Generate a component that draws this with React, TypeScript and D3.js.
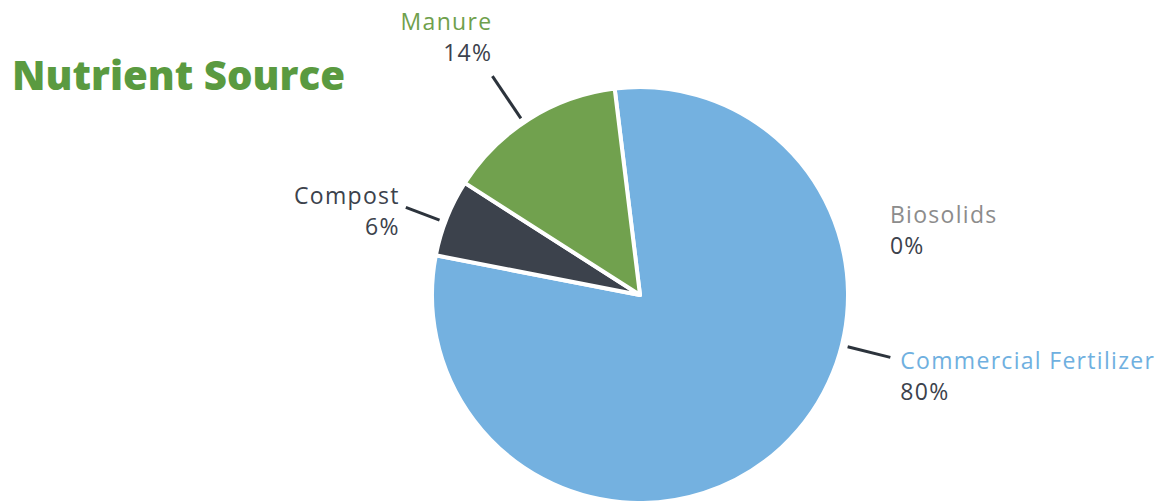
// @ts-nocheck
import React from 'react';
import * as d3 from 'd3';

const categories = ['Commercial Fertilizer', 'Compost', 'Manure', 'Biosolids'];
const shares = [80, 6, 14, 0];
const colors = ['#74b1e0', '#3c424c', '#71a14e', '#d0d0d0'];
const labelColors = ['#6fb0e0', '#3c424c', '#6fa04c', '#8c8c8c'];

// leader/label layout, per category (angle in degrees from north, clockwise)
const layout = {
  'Commercial Fertilizer': { angle: 104, r0: 214, r1: 258, dx: 10, dy: 12, anchor: 'start', line: true },
  'Compost': { angle: -69.5, r0: 214, r1: 250, dx: -6, dy: -3, anchor: 'end', line: true },
  'Manure': { angle: -34, r0: 213, r1: 264, dx: 0, dy: -46, anchor: 'end', line: true },
  'Biosolids': { angle: 74, r0: 260, r1: 260, dx: 0, dy: 0, anchor: 'start', line: false },
};

const W = 1161;
const H = 501;
const cx = 640;
const cy = 295;
const radius = 208;
const font = '"Open Sans", Lato, sans-serif';

export default function App() {
  const rad = (deg) => (deg * Math.PI) / 180;
  const pie = d3.pie().sort(null).value((d) => d.value)
    .startAngle(rad(-7)).endAngle(rad(353));
  const data = categories.map((name, i) => ({ name, value: shares[i], i }));
  const arcs = pie(data);
  const arc = d3.arc().innerRadius(0).outerRadius(radius);
  const pt = (deg, r) => [Math.sin(rad(deg)) * r, -Math.cos(rad(deg)) * r];

  return (
    <svg width={W} height={H} style={{ position: 'absolute', left: 0, top: 0, background: '#fff' }}>
      <text x={12} y={90} fill="#5a9a40" fontFamily={font} fontWeight={800} fontSize={40}
        textLength={333} lengthAdjust="spacingAndGlyphs">Nutrient Source</text>
      <g transform={`translate(${cx},${cy})`}>
        {arcs.filter((a) => a.value > 0).map((a) => (
          <path key={a.data.name} d={arc(a)} fill={colors[a.data.i]} stroke="#fff" strokeWidth={4} strokeLinejoin="round" />
        ))}
        {arcs.map((a) => {
          const l = layout[a.data.name];
          const [x0, y0] = pt(l.angle, l.r0);
          const [x1, y1] = pt(l.angle, l.r1);
          const tx = x1 + l.dx;
          const ty = y1 + l.dy;
          return (
            <g key={a.data.name}>
              {l.line && <line x1={x0} y1={y0} x2={x1} y2={y1} stroke="#2c333c" strokeWidth={3} />}
              <text x={tx} y={ty} textAnchor={l.anchor} fontFamily={font} fontSize={23} letterSpacing={1.3} fill={labelColors[a.data.i]}>{a.data.name}</text>
              <text x={tx} y={ty + 31} textAnchor={l.anchor} fontFamily={font} fontSize={23} letterSpacing={1.3} fill="#3c424c">{`${a.data.value}%`}</text>
            </g>
          );
        })}
      </g>
    </svg>
  );
}
